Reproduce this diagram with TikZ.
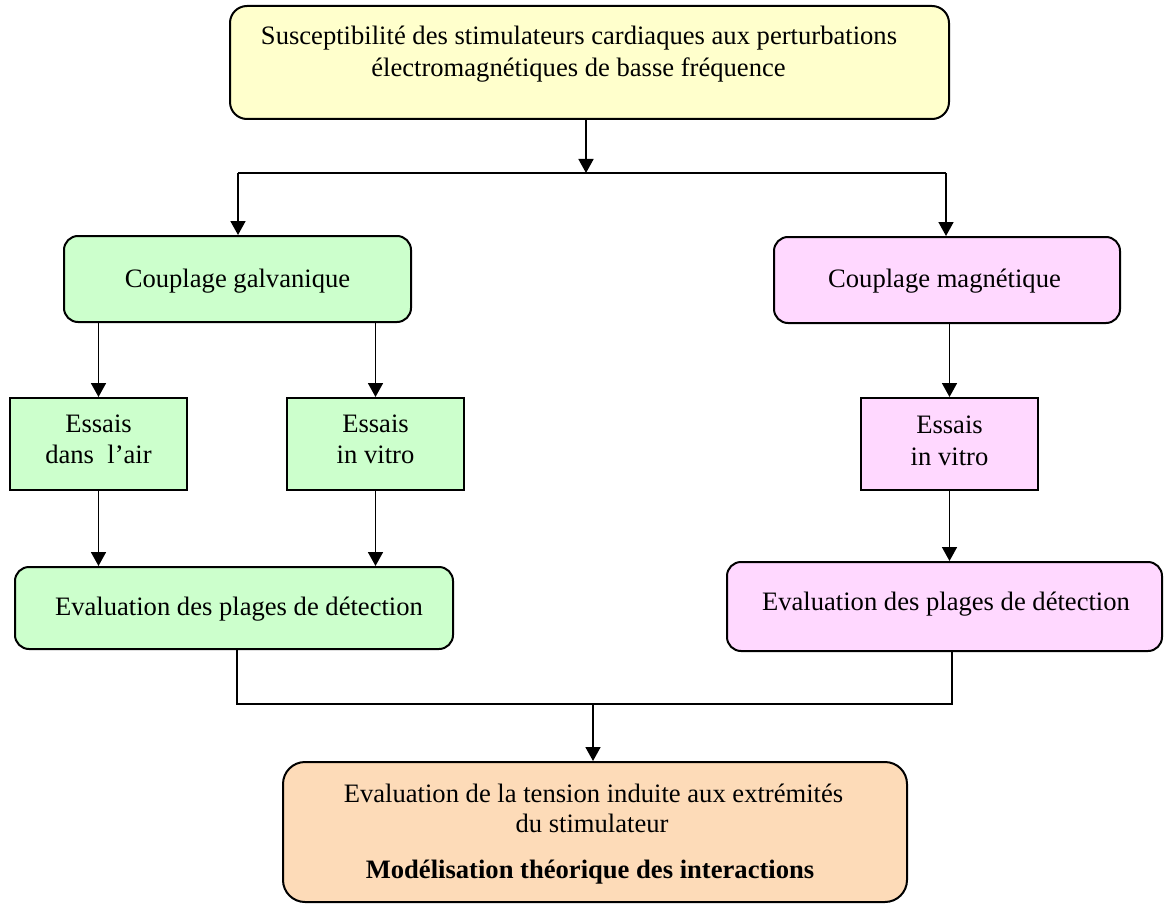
\documentclass[tikz,border=0pt]{standalone}
\usepackage{fontspec}
\setmainfont{Liberation Serif}
\usetikzlibrary{arrows.meta}
\definecolor{cyellow}{HTML}{FFFFCC}
\definecolor{cgreen}{HTML}{CCFFCC}
\definecolor{cpink}{HTML}{FFD8FF}
\definecolor{corange}{HTML}{FDDBB8}
\begin{document}
\begin{tikzpicture}[x=1pt,y=-1pt,
  box/.style={draw=black,line width=2pt,inner sep=0pt,rounded corners=14pt},
  sqbox/.style={draw=black,line width=2pt,inner sep=0pt},
  txt/.style={inner sep=0pt,anchor=base,font=\fontsize{26.6}{31}\selectfont},
  ln/.style={line width=1.7pt,draw=black},
  arr/.style={ln,-{Triangle[width=15pt,length=14pt]}}]
\useasboundingbox (0,0) rectangle (1164,904);
% boxes
\node[box,fill=cyellow,rounded corners=17pt,minimum width=719,minimum height=113] (top) at (589.5,62.5) {};
\node[box,fill=cgreen,minimum width=347,minimum height=86] (cg) at (237.5,279) {};
\node[box,fill=cpink,minimum width=346,minimum height=86] (cm) at (947,280) {};
\node[sqbox,fill=cgreen,minimum width=177,minimum height=92] (ea) at (98.5,444) {};
\node[sqbox,fill=cgreen,minimum width=177,minimum height=92] (ev) at (375.5,444) {};
\node[sqbox,fill=cpink,minimum width=177,minimum height=92] (pv) at (949.5,444) {};
\node[box,fill=cgreen,minimum width=438,minimum height=82] (ge) at (234,608) {};
\node[box,fill=cpink,minimum width=435,minimum height=89] (pe) at (944.5,606.5) {};
\node[box,fill=corange,rounded corners=22pt,minimum width=624,minimum height=140] (bot) at (595,832) {};
% texts
\node[txt] (t1a) at (579,45) {Susceptibilité des stimulateurs cardiaques aux perturbations};
\node[txt] (t1b) at (578.5,77) {électromagnétiques de basse fréquence};
\node[txt] (tcg) at (237.5,287) {Couplage galvanique};
\node[txt] (tcm) at (944.5,287) {Couplage magnétique};
\node[txt] (tea1) at (98.5,432) {Essais};
\node[txt] (tea2) at (98.5,463) {dans\ \ l’air};
\node[txt] (tev1) at (375.5,432) {Essais};
\node[txt] (tev2) at (375.5,463) {in vitro};
\node[txt] (tpv1) at (949.5,433) {Essais};
\node[txt] (tpv2) at (949.5,465) {in vitro};
\node[txt] (tge) at (239,615) {Evaluation des plages de détection};
\node[txt] (tpe) at (946,610) {Evaluation des plages de détection};
\node[txt] (tb1) at (593.5,802) {Evaluation de la tension induite aux extrémités};
\node[txt] (tb2) at (592,832) {du stimulateur};
\node[txt,font=\fontsize{26.6}{31}\selectfont\bfseries] (tb3) at (590,878) {Modélisation théorique des interactions};
% connectors
\coordinate (j1) at (586,173);
\coordinate (jL) at (238,173);
\coordinate (jR) at (946,173);
\draw[arr] (top.south -| j1) -- (j1);
\draw[ln] (jL) -- (jR);
\draw[arr] (jL) -- (cg.north -| jL);
\draw[arr] (jR) -- (cm.north -| jR);
\draw[arr] (cg.south -| ea.north) -- (ea.north);
\draw[arr] (cg.south -| ev.north) -- (ev.north);
\draw[arr] (cm.south -| pv.north) -- (pv.north);
\draw[arr] (ea.south) -- (ea.south |- ge.north);
\draw[arr] (ev.south) -- (ev.south |- ge.north);
\draw[arr] (pv.south) -- (pv.south |- pe.north);
\coordinate (b1) at (237,704);
\coordinate (b2) at (952,704);
\coordinate (b3) at (593,704);
\draw[ln] (ge.south -| b1) -- (b1) -- (b2) -- (pe.south -| b2);
\draw[arr] (b3) -- (bot.north -| b3);
\end{tikzpicture}
\end{document}
